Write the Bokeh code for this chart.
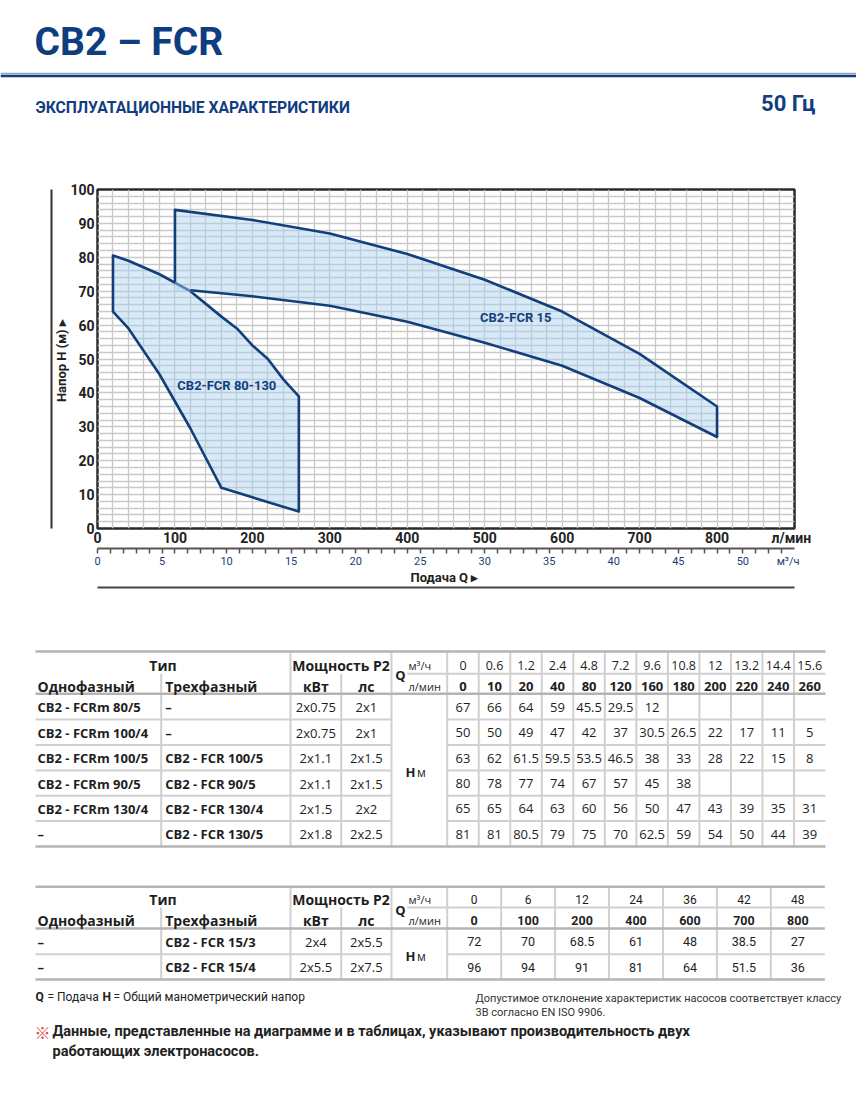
import numpy as np
from bokeh.plotting import figure
from bokeh.models import Range1d, LinearAxis, FixedTicker
from bokeh.core.properties import value
from bokeh.embed import file_html
from bokeh.resources import INLINE

# ---------------- data ----------------
# Table 1 : CB2-FCR 80-130 range
Q1_M3H = ["0", "0.6", "1.2", "2.4", "4.8", "7.2", "9.6", "10.8", "12", "13.2", "14.4", "15.6"]
Q1_LMIN = [0, 10, 20, 40, 80, 120, 160, 180, 200, 220, 240, 260]
T1_SINGLE = ["CB2 - FCRm 80/5", "CB2 - FCRm 100/4", "CB2 - FCRm 100/5", "CB2 - FCRm 90/5", "CB2 - FCRm 130/4", "–"]
T1_THREE = ["–", "–", "CB2 - FCR 100/5", "CB2 - FCR 90/5", "CB2 - FCR 130/4", "CB2 - FCR 130/5"]
T1_KW = ["2x0.75", "2x0.75", "2x1.1", "2x1.1", "2x1.5", "2x1.8"]
T1_HP = ["2x1", "2x1", "2x1.5", "2x1.5", "2x2", "2x2.5"]
H_80_5 = [67, 66, 64, 59, 45.5, 29.5, 12, None, None, None, None, None]
H_100_4 = [50, 50, 49, 47, 42, 37, 30.5, 26.5, 22, 17, 11, 5]
H_100_5 = [63, 62, 61.5, 59.5, 53.5, 46.5, 38, 33, 28, 22, 15, 8]
H_90_5 = [80, 78, 77, 74, 67, 57, 45, 38, None, None, None, None]
H_130_4 = [65, 65, 64, 63, 60, 56, 50, 47, 43, 39, 35, 31]
H_130_5 = [81, 81, 80.5, 79, 75, 70, 62.5, 59, 54, 50, 44, 39]

# Table 2 : CB2-FCR 15 range
Q2_M3H = ["0", "6", "12", "24", "36", "42", "48"]
Q2_LMIN = [0, 100, 200, 400, 600, 700, 800]
T2_SINGLE = ["–", "–"]
T2_THREE = ["CB2 - FCR 15/3", "CB2 - FCR 15/4"]
T2_KW = ["2x4", "2x5.5"]
T2_HP = ["2x5.5", "2x7.5"]
H_15_3 = [72, 70, 68.5, 61, 48, 38.5, 27]
H_15_4 = [96, 94, 91, 81, 64, 51.5, 36]

# extra points (CB2-FCR 15 area, between table values)
Q15_READ = [300, 500]
H15_4_READ = [87, 73.4]
H15_3_READ = [65.7, 54.8]
# outline corners of the CB2-FCR 15 area where it meets the 80-130 area (read)
Q15_CORNER = [100, 120]
H15_CORNER = [72.7, 70.3]

# axes
X_TICKS_LMIN = [0, 100, 200, 300, 400, 500, 600, 700, 800]
X_TICKS_M3H = [0, 5, 10, 15, 20, 25, 30, 35, 40, 45, 50]
Y_TICKS = [0, 10, 20, 30, 40, 50, 60, 70, 80, 90, 100]
AREA_LABELS = ["CB2-FCR 80-130", "CB2-FCR 15"]
AREA_LABEL_Q = [167, 540]
AREA_LABEL_H = [42.3, 62.1]

# ---------------- style ----------------
NAVY = "#0f3d80"
OUTLINE = "#123f7c"
FILL = "#a8d0f0"
TXT = "#1e1e1e"
LINE_LIGHT = "#d0d0d0"
LINE_DARK = "#b4b4b4"
CF = "Roboto"
TF = "Open Sans"
PW = 856


def T(p, xs, ys, texts, size, bold=False, align="center", font=TF, color=TXT, baseline="middle"):
    p.text(x=xs, y=ys, text=texts, text_font=value(font), text_font_size=f"{size}px",
           text_font_style="bold" if bold else "normal", text_align=align,
           text_baseline=baseline, text_color=color)


def fmt(v):
    if v is None:
        return ""
    return str(int(v)) if float(v).is_integer() else str(v)


def page_fig(height, y0):
    f = figure(width=PW, height=height, x_range=Range1d(0, PW), y_range=Range1d(y0 + height, y0),
               output_backend="svg", toolbar_location=None, min_border=0,
               x_axis_location=None, y_axis_location=None)
    f.grid.visible = False
    f.outline_line_color = None
    return f


# ---------------- header ----------------
ph = page_fig(170, 0)
T(ph, [34], [41], ["CB2 – FCR"], 39, True, "left", CF, NAVY)
ph.segment(x0=[0], y0=[73], x1=[PW], y1=[73], line_color="#8aa5cc", line_width=1.5)
ph.segment(x0=[0], y0=[75.5], x1=[PW], y1=[75.5], line_color=NAVY, line_width=2.5)
T(ph, [35], [107], ["ЭКСПЛУАТАЦИОННЫЕ ХАРАКТЕРИСТИКИ"], 15.7, True, "left", CF, NAVY)
T(ph, [815], [103], ["50 Гц"], 22, True, "right", CF, NAVY)

# ---------------- chart ----------------
pc = figure(width=PW, height=430, x_range=Range1d(0, 900), y_range=Range1d(0, 100),
            output_backend="svg", toolbar_location=None,
            min_border_left=97, min_border_right=62, min_border_top=19, min_border_bottom=72)
pc.outline_line_color = "#2a2a2a"
pc.outline_line_width = 2.5
pc.xgrid.ticker = FixedTicker(ticks=list(range(0, 901, 20)))
pc.ygrid.ticker = FixedTicker(ticks=list(range(0, 101, 2)))
for g in (pc.xgrid, pc.ygrid):
    g.grid_line_color = "#c9c9c9"
    g.grid_line_width = 1.3

xa = pc.xaxis[0]
xa.ticker = FixedTicker(ticks=X_TICKS_LMIN + [896])
xa.major_label_overrides = {896: "л/мин"}
ya = pc.yaxis[0]
ya.ticker = FixedTicker(ticks=Y_TICKS)
for ax in (xa, ya):
    ax.axis_line_color = None
    ax.major_tick_line_color = None
    ax.minor_tick_line_color = None
    ax.major_tick_out = 0
    ax.major_tick_in = 0
    ax.major_label_text_font = CF
    ax.major_label_text_font_style = "bold"
    ax.major_label_text_font_size = "14px"
    ax.major_label_text_color = "#222222"
xa.major_label_standoff = 1
ya.major_label_standoff = 3
ya.axis_label = "Напор H (м)  ▸"
ya.axis_label_standoff = -2
ya.axis_label_text_font = CF
ya.axis_label_text_font_style = "bold"
ya.axis_label_text_font_size = "13px"
ya.axis_label_text_color = "#222222"


def blank_axis(pad, line=None):
    return LinearAxis(ticker=FixedTicker(ticks=[]), axis_line_color=line, axis_line_width=2,
                      major_tick_out=pad, major_tick_in=0, major_label_standoff=0,
                      major_tick_line_color=None, minor_tick_line_color=None)


pc.add_layout(blank_axis(8), "left")
pc.add_layout(blank_axis(0, "#333333"), "left")

pc.extra_x_ranges = {"m3h": Range1d(0, 54)}
pc.add_layout(blank_axis(7), "below")
m3 = LinearAxis(x_range_name="m3h",
                ticker=FixedTicker(ticks=X_TICKS_M3H + [53.5], minor_ticks=list(range(0, 54))),
                major_label_overrides={53.5: "м³/ч"},
                axis_line_color="#555555", axis_line_width=2,
                major_tick_line_color=None, major_tick_out=5, major_tick_in=0,
                minor_tick_line_color="#555555", minor_tick_line_width=1.5,
                minor_tick_out=5, minor_tick_in=0,
                major_label_standoff=1, major_label_text_font=CF,
                major_label_text_font_size="11px", major_label_text_color="#1b3d73",
                axis_label="Подача Q  ▸", axis_label_standoff=-1, axis_label_text_font=CF,
                axis_label_text_font_style="bold", axis_label_text_font_size="13px",
                axis_label_text_color="#222222", axis_label_text_line_height=0.8)
pc.add_layout(m3, "below")
pc.add_layout(blank_axis(0, "#444444"), "below")

# 80-130 area: 130/5 upper edge, 80/5 lower edge, straight bottom to 100/4 end point
i0 = Q1_LMIN.index(20)
i1 = Q1_LMIN.index(160)
area1_x = Q1_LMIN[i0:] + [Q1_LMIN[-1]] + Q1_LMIN[i0:i1 + 1][::-1]
area1_y = H_130_5[i0:] + [H_100_4[-1]] + H_80_5[i0:i1 + 1][::-1]
pc.patch(area1_x, area1_y, fill_color=FILL, fill_alpha=0.45, line_color=OUTLINE,
         line_width=2.6, line_join="round")

# 15 area
h4 = dict(zip(Q2_LMIN, H_15_4)); h4.update(zip(Q15_READ, H15_4_READ))
h3 = dict(zip(Q2_LMIN, H_15_3)); h3.update(zip(Q15_READ, H15_3_READ))
q15 = sorted(Q2_LMIN[1:] + Q15_READ)
up = [h4[q] for q in q15]
lo = [h3[q] for q in q15]
pc.patch(q15 + q15[::-1], up + lo[::-1], fill_color=FILL, fill_alpha=0.45, line_color=None)
pc.line([Q15_CORNER[0]] + q15 + q15[::-1][:-1] + [Q15_CORNER[1]],
        [H15_CORNER[0]] + up + lo[::-1][:-1] + [H15_CORNER[1]],
        line_color=OUTLINE, line_width=2.6, line_join="round")

pc.text(x=AREA_LABEL_Q, y=AREA_LABEL_H, text=AREA_LABELS, text_font=value(CF),
        text_font_style="bold", text_font_size="13px", text_color="#123f7c",
        text_align="center", text_baseline="middle")

# ---------------- tables ----------------
pt = page_fig(508, 600)
X_L, X_SPLIT, X_POW, X_KWHP, X_Q, X_QSUB = 35, 160.7, 290, 340.7, 391, 406.7


def draw_table(p, y_top, y_sub, y_hdr, row_bounds, val_edges, q_m3h, q_lmin,
               singles, threes, kws, hps, rows, num_font, num_size):
    y_bot = row_bounds[-1]
    x_r = val_edges[-1]
    x0, y0, x1, y1 = [], [], [], []

    def add(a, b, c, d):
        x0.append(a); y0.append(b); x1.append(c); y1.append(d)

    for x in [X_POW, X_Q] + list(val_edges[:-1]):
        add(x, y_top, x, y_bot)
    for x in [X_SPLIT, X_KWHP]:
        add(x, y_sub, x, y_bot)
    add(X_QSUB, y_sub, x_r, y_sub)
    for yb in row_bounds[1:-1]:
        add(X_L, yb, X_Q, yb)
        add(val_edges[0], yb, x_r, yb)
    p.segment(x0=x0, y0=y0, x1=x1, y1=y1, line_color=LINE_LIGHT, line_width=2)
    p.segment(x0=[X_L] * 3, y0=[y_top, y_hdr, y_bot], x1=[x_r] * 3, y1=[y_top, y_hdr, y_bot],
              line_color=LINE_DARK, line_width=2.5)

    ya_ = (y_top + y_sub) / 2 + 2.5
    yb_ = (y_sub + y_hdr) / 2 + 2.5
    T(p, [(X_L + X_POW) / 2, (X_POW + X_Q) / 2], [ya_, ya_], ["Тип", "Мощность P2"], 14, True)
    T(p, [X_L + 2, X_SPLIT + 4], [yb_, yb_], ["Однофазный", "Трехфазный"], 14, True, "left")
    T(p, [(X_POW + X_KWHP) / 2, (X_KWHP + X_Q) / 2], [yb_, yb_], ["кВт", "лс"], 14, True)
    T(p, [400], [(y_top + y_hdr) / 2 + 2], ["Q"], 13, True)
    T(p, [408, 408], [ya_, yb_], ["м³/ч", "л/мин"], 11, False, "left")
    yh = (y_hdr + y_bot) / 2 + 2
    T(p, [410], [yh], ["H"], 13, True)
    T(p, [421], [yh], ["м"], 12, False)

    centers = [(val_edges[i] + val_edges[i + 1]) / 2 for i in range(len(val_edges) - 1)]
    T(p, centers, [ya_] * len(centers), q_m3h, num_size - 0.5, False, "center", num_font)
    T(p, centers, [yb_] * len(centers), [str(v) for v in q_lmin], num_size, True, "center", num_font)

    rc = [(row_bounds[i] + row_bounds[i + 1]) / 2 + 0.5 for i in range(len(row_bounds) - 1)]
    T(p, [X_L + 2] * len(rc), rc, singles, 13, True, "left")
    T(p, [X_SPLIT + 4] * len(rc), rc, threes, 13, True, "left")
    T(p, [(X_POW + X_KWHP) / 2] * len(rc), rc, kws, 13)
    T(p, [(X_KWHP + X_Q) / 2] * len(rc), rc, hps, 13)
    vx, vy, vt = [], [], []
    for r, row in enumerate(rows):
        for c, v in enumerate(row):
            if v is not None:
                vx.append(centers[c]); vy.append(rc[r]); vt.append(fmt(v))
    T(p, vx, vy, vt, num_size, False, "center", num_font)


draw_table(pt, 651, 673.3, 693.3, [693.3, 719, 744.5, 770, 795.3, 820.6, 846],
           list(np.linspace(446.7, 825, 13)), Q1_M3H, Q1_LMIN, T1_SINGLE, T1_THREE, T1_KW, T1_HP,
           [H_80_5, H_100_4, H_100_5, H_90_5, H_130_4, H_130_5], TF, 13)
draw_table(pt, 886.3, 907, 928, [928, 953.7, 979],
           list(np.linspace(446.7, 824.3, 8)), Q2_M3H, Q2_LMIN, T2_SINGLE, T2_THREE, T2_KW, T2_HP,
           [H_15_3, H_15_4], CF, 12.5)

# ---------------- footer ----------------
T(pt, [35], [996], ["Q"], 12, True, "left", CF, "#222222")
T(pt, [47], [996], ["= Подача"], 12, False, "left", CF, "#222222")
T(pt, [102], [996], ["H"], 12, True, "left", CF, "#222222")
T(pt, [113], [996], ["= Общий манометрический напор"], 12, False, "left", CF, "#222222")
T(pt, [475, 475], [998, 1011.5],
  ["Допустимое отклонение характеристик насосов соответствует классу", "3B согласно EN ISO 9906."],
  11, False, "left", CF, "#333333")
T(pt, [34], [1031], ["※"], 16, True, "left", "Noto Sans CJK SC", "#e2413f")
T(pt, [52, 52], [1031, 1050.5],
  ["Данные, представленные на диаграмме и в таблицах, указывают производительность двух",
   "работающих электронасосов."], 14.5, True, "left", CF, "#222222")

open("out.html", "w").write(file_html([ph, pc, pt], INLINE))
